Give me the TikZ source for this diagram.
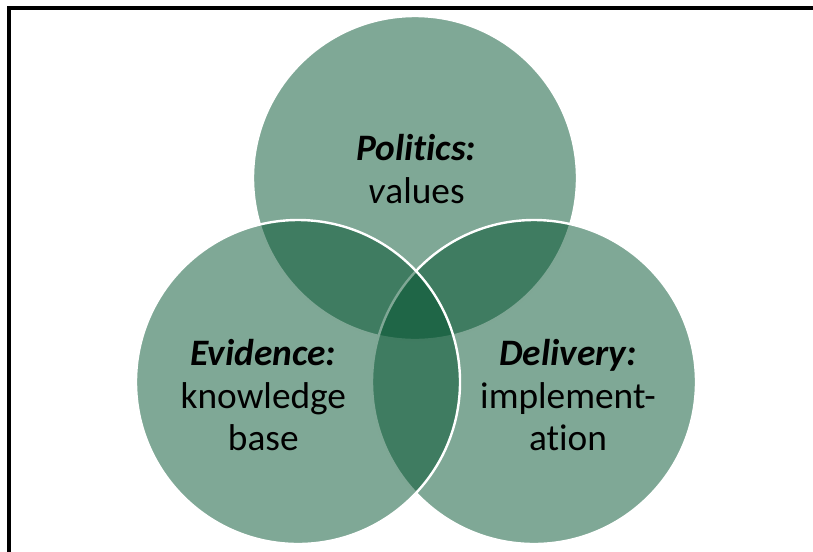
\documentclass[tikz,border=0pt]{standalone}
\usepackage{fontspec}
\setmainfont{Carlito}[Ligatures=NoCommon]
\definecolor{venngreen}{RGB}{0,81,45}
\tikzset{
  frame/.style={draw=black,line width=2.4pt},
  ring/.style={circle,draw=white,line width=1.8pt,fill=venngreen,fill opacity=0.5,
    minimum size=243pt,inner sep=0pt,outer sep=0pt},
  lbl/.style={align=center,text=black,inner sep=0pt,font=\fontsize{28}{32}\selectfont}
}
\begin{document}
\begin{tikzpicture}[x=0.75pt,y=-0.75pt]
  \useasboundingbox (0,0) rectangle (813,551);
  \clip (0,0) rectangle (813,551);
  \draw[frame] (9,8) rectangle (840,580);

  % three overlapping sets, top one at the back
  \node[ring] (pol) at (415,178) {};
  \node[ring] (del) at (534,382) {};
  \node[ring] (evi) at (298,382) {};

  \node[lbl] (poltxt) at ([xshift=1pt,yshift=6.5pt]pol.center) {\textbf{\textit{Politics:}}\\\textit{v}alues};
  \node[lbl] (evitxt) at ([xshift=-26pt,yshift=-10pt]evi.center) {\textbf{\textit{Evidence:}}\\knowledge\\base};
  \node[lbl] (deltxt) at ([xshift=25.5pt,yshift=-10pt]del.center) {\textbf{\textit{Delivery:}}\\implement-\\ation};
\end{tikzpicture}
\end{document}
